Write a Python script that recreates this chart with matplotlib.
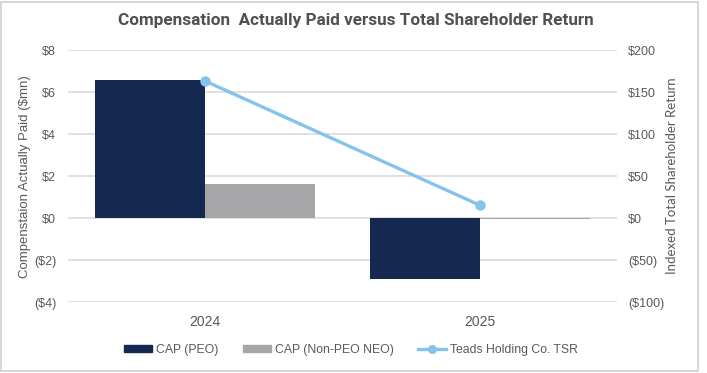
import matplotlib
matplotlib.use("Agg")
import matplotlib.pyplot as plt
from matplotlib.patches import Rectangle
from matplotlib.lines import Line2D
import numpy as np

years = ["2024", "2025"]
cap_peo = [6.55, -2.88]
cap_non_peo = [1.63, -0.04]
tsr = [163.0, 15.5]
left_ticks = [-4, -2, 0, 2, 4, 6, 8]
left_labels = ["($4)", "($2)", "$0", "$2", "$4", "$6", "$8"]
right_ticks = [-100, -50, 0, 50, 100, 150, 200]
right_labels = ["($100)", "($50)", "$0", "$50", "$100", "$150", "$200"]

W, H = 707, 373
fig = plt.figure(figsize=(W / 100, H / 100), dpi=100)
fig.patch.set_facecolor("white")

# chart border
fig.patches.append(Rectangle((1 / W, 2 / H), 697 / W, 369 / H, transform=fig.transFigure,
                             fill=False, edgecolor="#D0D0D0", linewidth=1.2))

ax = fig.add_axes([68 / W, (H - 302.3) / H, 549 / W, 252.3 / H])
navy = "#15284F"
grey = "#A6A6A8"
blue = "#85C3EA"
tick_col = "#595959"

x = np.arange(len(years))
bw = 0.4
ax.bar(x - bw / 2, cap_peo, width=bw, color=navy, zorder=3)
ax.bar(x + bw / 2, cap_non_peo, width=bw, color=grey, zorder=3)
ax.set_xlim(-0.5, 1.5)
ax.set_ylim(-4, 8)
ax.set_yticks(left_ticks)
ax.set_yticklabels(left_labels, fontsize=9, color=tick_col, family="Liberation Sans")
ax.set_xticks(x)
ax.set_xticklabels(years, fontsize=10, color=tick_col, family="Liberation Sans")
ax.tick_params(axis="both", length=0)
ax.tick_params(axis="y", pad=8.5)
ax.tick_params(axis="x", pad=9)
ax.grid(axis="y", color="#D9D9D9", linewidth=1.1, zorder=0)
for s in ax.spines.values():
    s.set_visible(False)
ax.set_ylabel("Compenstaion Actually Paid ($mn)", fontsize=9.5, color=tick_col,
              family="Liberation Sans")
ax.yaxis.set_label_coords((31 - 68) / 549, 0.5)

ax2 = ax.twinx()
ax2.plot(x, tsr, color=blue, linewidth=2.4, marker="o", markersize=6.5, zorder=5)
ax2.set_ylim(-100, 200)
ax2.set_yticks(right_ticks)
ax2.set_yticklabels(right_labels, fontsize=9, color=tick_col, family="Liberation Sans")
ax2.tick_params(axis="y", length=0, pad=8)
for s in ax2.spines.values():
    s.set_visible(False)
ax2.set_ylabel("Indexed Total Shareholder Return", fontsize=9.5, color=tick_col,
               family="Lato")
ax2.yaxis.set_label_coords((666 - 68) / 549, 0.5)

fig.text(356 / W, 1 - 20 / H, "Compensation  Actually Paid versus Total Shareholder Return",
         ha="center", va="center", fontsize=12.3, fontweight="bold", color="#505050",
         family="Roboto")

handles = [
    Rectangle((0, 0), 1, 1, color=navy),
    Rectangle((0, 0), 1, 1, color=grey),
    Line2D([0], [0], color=blue, linewidth=2.4, marker="o", markersize=5.5),
]
labels = ["CAP (PEO)", "CAP (Non-PEO NEO)", "Teads Holding Co. TSR"]
leg = fig.legend(handles, labels, loc="center", bbox_to_anchor=(351 / W, 1 - 350 / H), ncol=3,
                 frameon=False, handlelength=2.3, handleheight=0.5,
                 columnspacing=2.0, handletextpad=0.3, prop={"family": "Liberation Sans", "size": 8.8})
for t in leg.get_texts():
    t.set_color(tick_col)

fig.savefig("out.png", dpi=100)
